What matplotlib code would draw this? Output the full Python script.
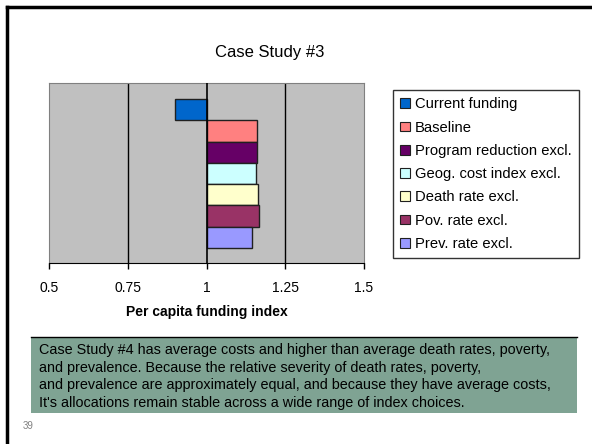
import matplotlib.pyplot as plt
from matplotlib.patches import Patch, Rectangle
from matplotlib.lines import Line2D

series = ['Current funding', 'Baseline', 'Program reduction excl.',
          'Geog. cost index excl.', 'Death rate excl.', 'Pov. rate excl.',
          'Prev. rate excl.']
values = [0.90, 1.159, 1.159, 1.156, 1.162, 1.168, 1.145]
colors = ['#0066CC', '#FF8080', '#660066', '#CCFFFF', '#FFFFCC', '#993366', '#9999FF']
ticks = [0.5, 0.75, 1, 1.25, 1.5]
tick_labels = ['0.5', '0.75', '1', '1.25', '1.5']
note = ("Case Study #4 has average costs and higher than average death rates, poverty,\n"
        "and prevalence. Because the relative severity of death rates, poverty,\n"
        "and prevalence are approximately equal, and because they have average costs,\n"
        "It's allocations remain stable across a wide range of index choices.")

plt.rcParams['font.family'] = ['Liberation Sans', 'DejaVu Sans']

W, H = 592, 444
fig = plt.figure(figsize=(W / 100, H / 100), dpi=100)

def fx(px):
    return px / W

def fy(py):
    return 1 - py / H

# slide border
fig.add_artist(Line2D([fx(7), fx(7)], [fy(7), 0], color='black', lw=2.5))
fig.add_artist(Line2D([fx(7), 1], [fy(7), fy(7)], color='black', lw=2.5))

ax = fig.add_axes([fx(49), fy(263), fx(364) - fx(49), (263 - 83) / H])
ax.set_facecolor('#C0C0C0')
ypos = list(range(len(values)))
ax.barh(ypos, [v - 1 for v in values], left=1, height=1.0, color=colors,
        edgecolor='#202020', linewidth=1, zorder=3)
ax.set_xlim(0.5, 1.5)
ax.set_ylim(7.2, -1.25)
for g in [0.75, 1.25]:
    ax.axvline(g, color='black', lw=1, zorder=1)
ax.axvline(1, color='black', lw=1.2, zorder=4)
ax.set_yticks([])
ax.set_xticks(ticks)
ax.set_xticklabels(tick_labels, fontsize=10)
ax.tick_params(axis='x', direction='out', length=4, width=1, pad=9)
for s in ['left', 'right', 'top']:
    ax.spines[s].set_color('#808080')
ax.spines['bottom'].set_color('black')
ax.set_xlabel('Per capita funding index', fontsize=10, fontweight='bold', labelpad=7)

fig.text(fx(270), fy(52), 'Case Study #3', fontsize=12, ha='center', va='center')

handles = [Patch(facecolor=c, edgecolor='#202020', linewidth=0.8) for c in colors]
leg = fig.legend(handles, series, loc='upper left', bbox_to_anchor=(fx(393), fy(90)),
                 fontsize=10.6, frameon=True, fancybox=False, edgecolor='black',
                 handlelength=0.65, handleheight=0.65, handletextpad=0.35,
                 labelspacing=0.63, borderpad=0.5, borderaxespad=0)
leg.get_frame().set_linewidth(1)

# note box
fig.add_artist(Rectangle((fx(31), fy(413)), fx(577) - fx(31), (413 - 337) / H,
                         transform=fig.transFigure, facecolor='#7FA393', edgecolor='none'))
fig.add_artist(Line2D([fx(31), fx(577)], [fy(337), fy(337)], color='black', lw=1))
fig.text(fx(39), fy(343), note, fontsize=10.4, ha='left', va='top', linespacing=1.33)

fig.text(fx(28), fy(426), '39', fontsize=7, color='#808080', ha='center', va='center')

fig.savefig('out.png', dpi=100)
